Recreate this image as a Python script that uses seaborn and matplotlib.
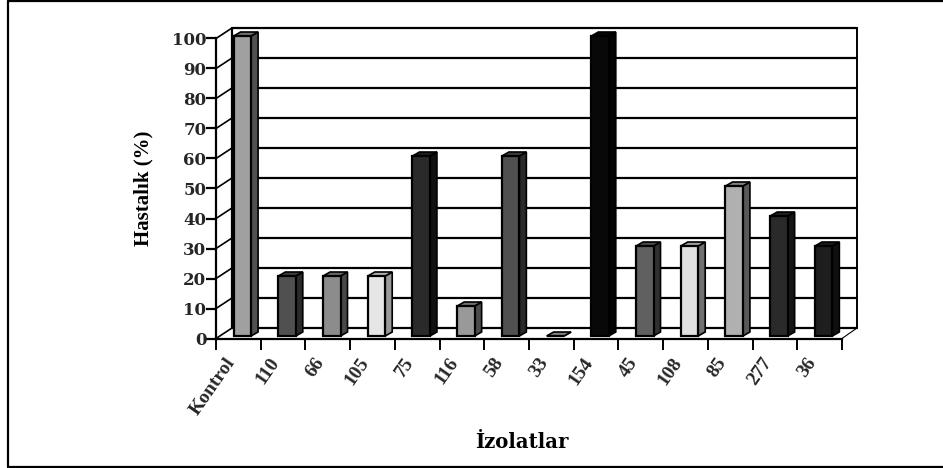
import matplotlib
matplotlib.use("Agg")
import matplotlib.pyplot as plt
import matplotlib.transforms as mtrans
from matplotlib.lines import Line2D
from matplotlib.patches import Polygon
import seaborn as sns

isolates = ["Kontrol", "110", "66", "105", "75", "116", "58", "33", "154", "45", "108", "85", "277", "36"]
disease = [100, 20, 20, 20, 60, 10, 60, 0, 100, 30, 30, 50, 40, 30]
front_colors = ["#a0a0a0", "#505050", "#8c8c8c", "#e6e6e6", "#2a2a2a", "#999999", "#505050",
                "#999999", "#080808", "#606060", "#e0e0e0", "#b0b0b0", "#2a2a2a", "#1e1e1e"]
side_colors = ["#505050", "#2a2a2a", "#484848", "#999999", "#111111", "#4c4c4c", "#2a2a2a",
               "#4c4c4c", "#040404", "#303030", "#707070", "#585858", "#151515", "#101010"]
top_colors = ["#707070", "#3c3c3c", "#686868", "#b0b0b0", "#1c1c1c", "#707070", "#3c3c3c",
              "#808080", "#060606", "#484848", "#a0a0a0", "#808080", "#202020", "#181818"]
yticks = list(range(0, 101, 10))

W, H = 943, 468
sns.set_style("white")
plt.rcParams["font.family"] = ["DejaVu Serif"]
plt.rcParams["font.weight"] = "bold"

fig = plt.figure(figsize=(W / 100, H / 100), dpi=100)
ax = fig.add_axes([216 / W, (H - 338.5) / H, 626 / W, 300 / H])

sns.barplot(x=isolates, y=disease, hue=isolates, order=isolates, hue_order=isolates,
            palette=dict(zip(isolates, front_colors)), width=0.39, saturation=1,
            edgecolor="black", linewidth=1.6, legend=False, ax=ax, zorder=5)
ax.set_xlim(-0.5, 13.5)
ax.set_ylim(0, 100)

# fake 3d depth, one pixel in data units
one_x = 14 / 626
one_y = 100 / 300
wall_dy = 10.5 * one_y

# back wall and grid
x0, x1 = -0.5 + 16 * one_x, 13.5 + 15 * one_x
for v in yticks:
    ax.plot([x0, x1], [v + wall_dy] * 2, color="black", lw=1.6, clip_on=False, zorder=1)
    ax.plot([-0.5, x0], [v, v + wall_dy], color="black", lw=1.2, clip_on=False, zorder=1)
ax.plot([x0, x0], [wall_dy, 100 + wall_dy], color="black", lw=1.6, clip_on=False, zorder=1)
ax.plot([x1, x1], [wall_dy, 100 + wall_dy], color="black", lw=1.4, clip_on=False, zorder=1)
ax.plot([13.5, x1], [0, wall_dy], color="black", lw=0.8, clip_on=False, zorder=1)

# move bars inside the depth and add side and top faces
shift = ax.transData + mtrans.Affine2D().translate(4.0, 2.5)
dx = 7 * one_x
dy = 4 * one_y
for i, p in enumerate(ax.patches):
    p.set_transform(shift)
    p.set_clip_on(False)
    x, w, h = p.get_x(), p.get_width(), p.get_height()
    side = [(x + w, 0), (x + w + dx, dy), (x + w + dx, h + dy), (x + w, h)]
    top = [(x, h), (x + dx, h + dy), (x + w + dx, h + dy), (x + w, h)]
    ax.add_patch(Polygon(side, closed=True, fc=side_colors[i], ec="black", lw=1.2,
                         transform=shift, clip_on=False, zorder=4))
    ax.add_patch(Polygon(top, closed=True, fc=top_colors[i], ec="black", lw=1.2,
                         transform=shift, clip_on=False, zorder=4))

sns.despine(ax=ax)
for s in ["left", "bottom"]:
    ax.spines[s].set_linewidth(1.6)
    ax.spines[s].set_color("black")
    ax.spines[s].set_zorder(6)

ax.set_yticks(yticks)
ax.tick_params(axis="y", length=7, width=1.6, color="black", labelsize=12, pad=0, left=True)
ax.set_xticks([i - 0.5 for i in range(15)])
ax.set_xticklabels([])
ax.set_xticks(range(14), labels=isolates, minor=True)
ax.tick_params(axis="x", which="major", length=8, width=1.4, color="black", bottom=True)
ax.tick_params(axis="x", which="minor", length=0, pad=15, labelsize=14, bottom=False)
for tick in ax.xaxis.get_minor_ticks():
    t = tick.label1
    t.set_family("Liberation Serif")
    t.set_rotation(55)
    t.set_ha("right")
    t.set_rotation_mode("anchor")
    t.set_va("center")
    t.set_transform(t.get_transform() + mtrans.Affine2D().translate(-7, 0))

ax.set_xlabel("İzolatlar", fontsize=14.2, fontweight="bold", color="black")
ax.set_ylabel("Hastalık (%)", fontsize=15, fontweight="bold", color="black", family="Liberation Serif")
ax.xaxis.set_label_coords(0.489, -0.31)
ax.yaxis.set_label_coords(-0.10, 0.5)

# outer frame, no line on the right side
for xs, ys in [([8, 8], [1, 467]), ([8, W], [467, 467]), ([8, W], [1, 1])]:
    fig.add_artist(Line2D([a / W for a in xs], [b / H for b in ys], transform=fig.transFigure,
                          color="black", lw=1.6))

fig.savefig("out.png", dpi=100)
